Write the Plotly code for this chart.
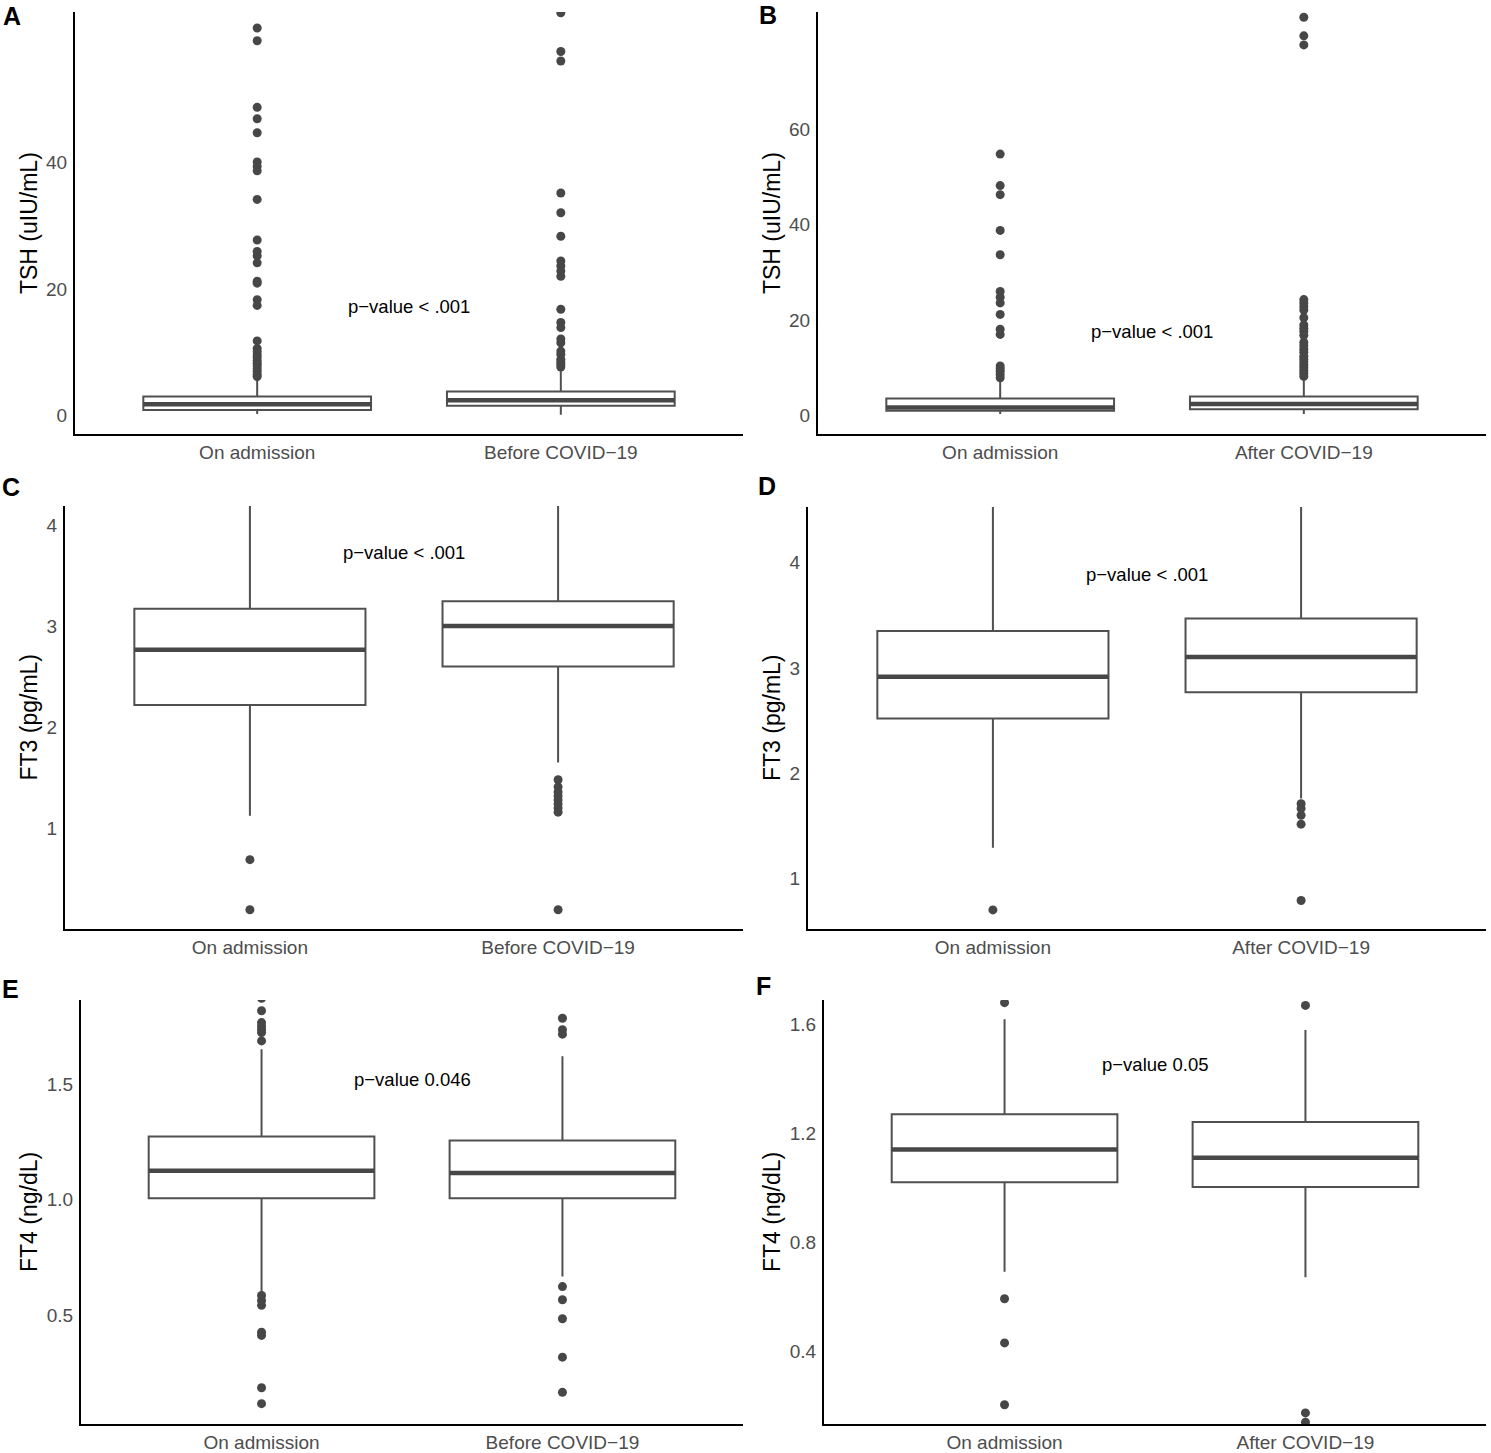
import plotly.graph_objects as go

# ---------------- data ----------------
cats_before = ["On admission", "Before COVID\u221219"]
cats_after = ["On admission", "After COVID\u221219"]

# Panel A: TSH, on admission vs before COVID-19
A_q1 = [0.90, 1.57]
A_med = [1.84, 2.47]
A_q3 = [3.05, 3.84]
A_lo = [0.27, 0.16]
A_hi = [5.9, 7.3]
A_out_adm = [61.1, 59.1, 48.6, 46.8, 44.6, 40.0, 39.3, 38.6, 34.1, 27.7, 25.9, 25.2,
             24.1, 21.2, 20.9, 18.3, 17.4, 11.8, 10.6, 10.1, 9.6, 9.2, 8.7, 8.3, 7.9,
             7.4, 7.0, 6.5, 6.2]
A_out_2 = [63.5, 57.4, 55.9, 35.1, 32.0, 28.3, 24.4, 23.6, 22.8, 22.0, 16.8, 14.7,
           13.9, 12.1, 11.5, 10.2, 9.7, 8.9, 8.5, 8.1, 7.7]
A_p = "p\u2212value < .001"

# Panel B: TSH, on admission vs after COVID-19
B_q1 = [1.0, 1.3]
B_med = [1.7, 2.4]
B_q3 = [3.55, 4.0]
B_lo = [0.3, 0.3]
B_hi = [7.4, 7.6]
B_out_adm = [54.8, 48.2, 46.3, 38.8, 33.7, 26.0, 24.8, 23.6, 21.2, 18.1, 17.0, 10.4,
             9.8, 9.3, 8.6, 7.9]
B_out_2 = [83.5, 79.6, 77.7, 24.3, 23.6, 22.8, 22.1, 20.5, 19.0, 18.3, 17.6, 16.8,
           15.3, 14.6, 13.9, 13.2, 12.4, 11.8, 11.2, 10.6, 10.0, 9.4, 8.8, 8.2]
B_p = "p\u2212value < .001"

# Panel C: FT3, on admission vs before COVID-19
C_q1 = [2.22, 2.60]
C_med = [2.765, 3.00]
C_q3 = [3.17, 3.245]
C_lo = [1.125, 1.65]
C_hi = [4.6, 4.6]
C_out_adm = [0.69, 0.195]
C_out_2 = [1.48, 1.41, 1.36, 1.32, 1.28, 1.24, 1.20, 1.16, 0.195]
C_p = "p\u2212value < .001"

# Panel D: FT3, on admission vs after COVID-19
D_q1 = [2.52, 2.77]
D_med = [2.915, 3.105]
D_q3 = [3.35, 3.47]
D_lo = [1.29, 1.76]
D_hi = [4.8, 4.8]
D_out_adm = [0.70]
D_out_2 = [1.71, 1.665, 1.60, 1.515, 0.79]
D_p = "p\u2212value < .001"

# Panel E: FT4, on admission vs before COVID-19
E_q1 = [1.006, 1.006]
E_med = [1.125, 1.115]
E_q3 = [1.273, 1.255]
E_lo = [0.60, 0.668]
E_hi = [1.65, 1.62]
E_out_adm = [1.87, 1.816, 1.765, 1.75, 1.736, 1.722, 1.686, 0.586, 0.564, 0.543,
             0.427, 0.413, 0.187, 0.118]
E_out_2 = [1.784, 1.734, 1.715, 0.624, 0.567, 0.485, 0.319, 0.167]
E_p = "p\u2212value 0.046"

# Panel F: FT4, on admission vs after COVID-19
F_q1 = [1.021, 1.003]
F_med = [1.141, 1.111]
F_q3 = [1.270, 1.242]
F_lo = [0.692, 0.672]
F_hi = [1.619, 1.58]
F_out_adm = [1.68, 0.593, 0.431, 0.204]
F_out_2 = [1.67, 0.174, 0.14]
F_p = "p\u2212value 0.05"

# ---------------- layout helpers ----------------
W, H = 1491, 1453
FONT = "Liberation Sans, Arial, Helvetica, sans-serif"
BOX_LINE = "#505050"
DARK = "#474747"
BOX_W = 0.75


def px_x(v):
    return v / W


def px_y(v):
    return 1 - v / H


panels = [
    dict(letter="A", cats=cats_before, q1=A_q1, med=A_med, q3=A_q3, lo=A_lo, hi=A_hi,
         out=[A_out_adm, A_out_2], p=A_p, p_y=17.2, title="TSH (uIU/mL)",
         yrange=[-2.88, 63.63], ticks=[0, 20, 40], ticktext=["0", "20", "40"],
         xpx=[75, 743], ypx=[12, 435], tx=29, lx=1, ly=16),
    dict(letter="B", cats=cats_after, q1=B_q1, med=B_med, q3=B_q3, lo=B_lo, hi=B_hi,
         out=[B_out_adm, B_out_2], p=B_p, p_y=17.6, title="TSH (uIU/mL)",
         yrange=[-3.9, 84.6], ticks=[0, 20, 40, 60], ticktext=["0", "20", "40", "60"],
         xpx=[818, 1486], ypx=[12, 435], tx=772, lx=757, ly=15),
    dict(letter="C", cats=cats_before, q1=C_q1, med=C_med, q3=C_q3, lo=C_lo, hi=C_hi,
         out=[C_out_adm, C_out_2], p=C_p, p_y=3.73, title="FT3 (pg/mL)",
         yrange=[0.004, 4.187], ticks=[1, 2, 3, 4], ticktext=["1", "2", "3", "4"],
         xpx=[65, 743], ypx=[507, 931], tx=29, lx=0, ly=488),
    dict(letter="D", cats=cats_after, q1=D_q1, med=D_med, q3=D_q3, lo=D_lo, hi=D_hi,
         out=[D_out_adm, D_out_2], p=D_p, p_y=3.89, title="FT3 (pg/mL)",
         yrange=[0.518, 4.53], ticks=[1, 2, 3, 4], ticktext=["1", "2", "3", "4"],
         xpx=[808, 1486], ypx=[508, 931], tx=772, lx=756, ly=487),
    dict(letter="E", cats=cats_before, q1=E_q1, med=E_med, q3=E_q3, lo=E_lo, hi=E_hi,
         out=[E_out_adm, E_out_2], p=E_p, p_y=1.52, title="FT4 (ng/dL)",
         yrange=[0.03, 1.863], ticks=[0.5, 1.0, 1.5], ticktext=["0.5", "1.0", "1.5"],
         xpx=[81, 743], ypx=[1002, 1427], tx=29, lx=0, ly=991),
    dict(letter="F", cats=cats_after, q1=F_q1, med=F_med, q3=F_q3, lo=F_lo, hi=F_hi,
         out=[F_out_adm, F_out_2], p=F_p, p_y=1.454, title="FT4 (ng/dL)",
         yrange=[0.133, 1.69], ticks=[0.4, 0.8, 1.2, 1.6],
         ticktext=["0.4", "0.8", "1.2", "1.6"],
         xpx=[824, 1486], ypx=[1002, 1427], tx=772, lx=754, ly=988),
]

fig = go.Figure()
annotations = []
layout_axes = {}

for i, pnl in enumerate(panels):
    n = i + 1
    xa = "x" if n == 1 else f"x{n}"
    ya = "y" if n == 1 else f"y{n}"
    xkey = "xaxis" if n == 1 else f"xaxis{n}"
    ykey = "yaxis" if n == 1 else f"yaxis{n}"
    pos = list(range(len(pnl["cats"])))

    fig.add_trace(go.Box(
        x=pos, q1=pnl["q1"], median=pnl["med"], q3=pnl["q3"],
        lowerfence=pnl["lo"], upperfence=pnl["hi"],
        width=BOX_W, whiskerwidth=0, boxpoints=False,
        fillcolor="white", line=dict(color=BOX_LINE, width=2),
        xaxis=xa, yaxis=ya, showlegend=False, hoverinfo="skip",
    ))

    # thicker median line (ggplot style)
    mx, my = [], []
    for k, m in zip(pos, pnl["med"]):
        mx += [k - BOX_W / 2, k + BOX_W / 2, None]
        my += [m, m, None]
    fig.add_trace(go.Scatter(
        x=mx, y=my, mode="lines", line=dict(color=DARK, width=4.5),
        xaxis=xa, yaxis=ya, showlegend=False, hoverinfo="skip",
    ))

    # outliers
    ox, oy = [], []
    for k, vals in zip(pos, pnl["out"]):
        ox += [k] * len(vals)
        oy += vals
    fig.add_trace(go.Scatter(
        x=ox, y=oy, mode="markers", marker=dict(color=DARK, size=9, line=dict(width=0)),
        xaxis=xa, yaxis=ya, showlegend=False, hoverinfo="skip", cliponaxis=True,
    ))

    # p-value annotation
    annotations.append(dict(
        x=0.5, y=pnl["p_y"], xref=xa, yref=ya, text=pnl["p"], showarrow=False,
        font=dict(family=FONT, size=18.5, color="black"),
        xanchor="center", yanchor="middle",
    ))

    # axis title
    annotations.append(dict(
        x=px_x(pnl["tx"]), y=px_y((pnl["ypx"][0] + pnl["ypx"][1]) / 2),
        xref="paper", yref="paper", text=pnl["title"], textangle=-90,
        showarrow=False, font=dict(family=FONT, size=23, color="black"),
        xanchor="center", yanchor="middle",
    ))

    # panel letter
    annotations.append(dict(
        x=px_x(pnl["lx"]), y=px_y(pnl["ly"]), xref="paper", yref="paper",
        text=f"<b>{pnl['letter']}</b>", showarrow=False,
        font=dict(family=FONT, size=25, color="black"),
        xanchor="left", yanchor="middle",
    ))

    layout_axes[xkey] = dict(
        domain=[px_x(pnl["xpx"][0]), px_x(pnl["xpx"][1])],
        anchor=ya, range=[-0.6, len(pos) - 1 + 0.6],
        tickvals=pos, ticktext=pnl["cats"], ticks="", ticklen=0,
        showline=True, linecolor="black", linewidth=2,
        showgrid=False, zeroline=False, ticklabelstandoff=0,
        tickfont=dict(family=FONT, size=19, color="#4D4D4D"),
    )
    layout_axes[ykey] = dict(
        domain=[px_y(pnl["ypx"][1]), px_y(pnl["ypx"][0])],
        anchor=xa, range=pnl["yrange"],
        tickvals=pnl["ticks"], ticktext=pnl["ticktext"], ticks="", ticklen=0,
        showline=True, linecolor="black", linewidth=2,
        showgrid=False, zeroline=False, ticklabelstandoff=2,
        tickfont=dict(family=FONT, size=19, color="#4D4D4D"),
    )

fig.update_layout(
    width=W, height=H,
    margin=dict(l=0, r=0, t=0, b=0),
    paper_bgcolor="white", plot_bgcolor="white",
    boxmode="overlay",
    annotations=annotations,
    **layout_axes,
)

fig.write_html(
    "out.html",
    config={"displayModeBar": False},
    post_script="document.body.style.margin='0';document.body.style.padding='0';"
                "document.body.style.overflow='hidden';",
)
